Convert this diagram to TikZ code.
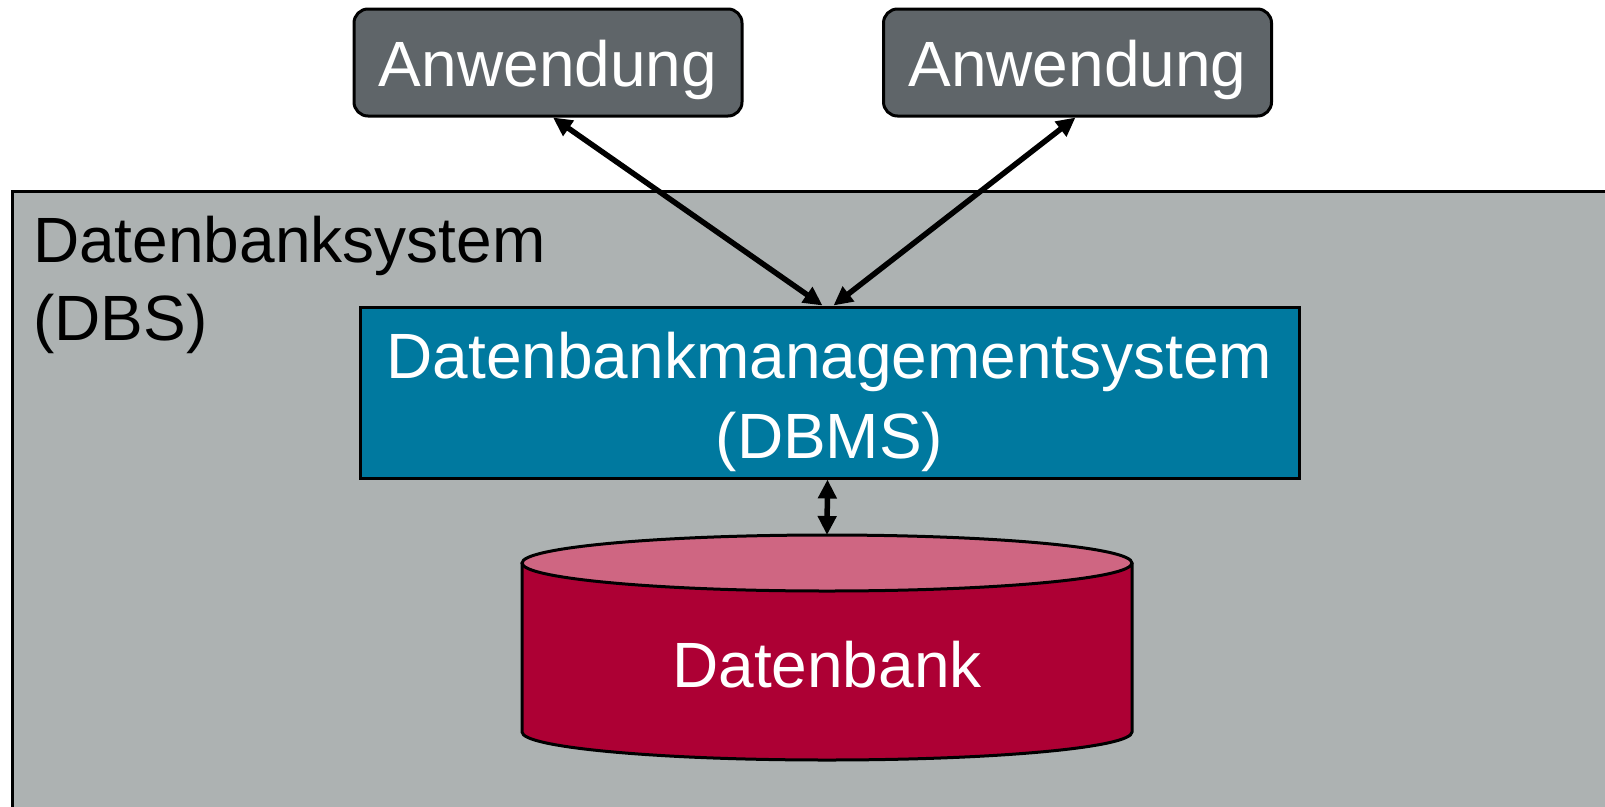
\documentclass[tikz,border=0pt]{standalone}
\usepackage{fontspec}
\setmainfont{Liberation Sans}
\usetikzlibrary{arrows.meta,calc}
\definecolor{appgrey}{HTML}{5F6569}
\definecolor{sysgrey}{HTML}{ADB2B2}
\definecolor{dbmsblue}{HTML}{00799F}
\definecolor{dbred}{HTML}{AD0034}
\definecolor{dbpink}{HTML}{CF6682}
\tikzset{
  appbox/.style={draw=black, line width=3pt, fill=appgrey, rounded corners=14pt,
    minimum width=388pt, minimum height=107pt, inner sep=0pt},
  apptext/.style={text=white, font=\fontsize{64}{74}\selectfont, inner sep=0pt, anchor=base},
  dbmsbox/.style={draw=black, line width=3pt, fill=dbmsblue,
    minimum width=939pt, minimum height=171pt, inner sep=0pt},
  dbmstext/.style={text=white, align=center, font=\fontsize{64}{80}\selectfont, inner sep=0pt},
  conn/.style={line width=5.5pt, {Triangle[length=19pt,width=18pt]}-{Triangle[length=19pt,width=18pt]}},
  bigtext/.style={font=\fontsize{64}{78}\selectfont, inner sep=0pt, align=left}
}
\begin{document}
\begin{tikzpicture}[x=1pt,y=-1pt]
\useasboundingbox (0,0) rectangle (1605,806);
\clip (0,0) rectangle (1605,806);
\fill[white] (0,0) rectangle (1605,806);
% system background
\draw[line width=3pt, fill=sysgrey] (12,191) rectangle (1640,840);
\node[bigtext, anchor=north west] (dbs) at (33,216) {Datenbanksystem\\(DBS)};
% applications
\node[appbox] (a1) at (548,62.5) {};
\node[appbox] (a2) at (1077.5,62.5) {};
\node[apptext] (t1) at (548,86) {Anwendung};
\node[apptext] (t2) at (1077.5,86) {Anwendung};
% DBMS
\node[dbmsbox] (dbms) at (829.5,392.5) {};
\node[dbmstext] (tdbms) at (829.5,402) {Datenbankmanagementsystem\\(DBMS)};
% database cylinder
\fill[dbred] (522,563) -- (522,732) arc[start angle=180, end angle=0, x radius=305, y radius=28] -- (1132,563) -- cycle;
\draw[line width=3pt] (522,563) -- (522,732) arc[start angle=180, end angle=0, x radius=305, y radius=28] -- (1132,563);
\draw[line width=3pt, fill=dbpink] (827,563) ellipse[x radius=305, y radius=28];
\coordinate (dbtop) at (827,535);
\node[text=white, font=\fontsize{64}{77}\selectfont] (db) at (827,665) {Datenbank};
% connectors
\draw[conn] ([xshift=5pt]a1.south) -- ([xshift=-7pt]dbms.north);
\draw[conn] ([xshift=-2pt]a2.south) -- ([xshift=4pt]dbms.north);
\draw[conn] ([xshift=-2pt]dbms.south) -- (dbtop);
\end{tikzpicture}
\end{document}
